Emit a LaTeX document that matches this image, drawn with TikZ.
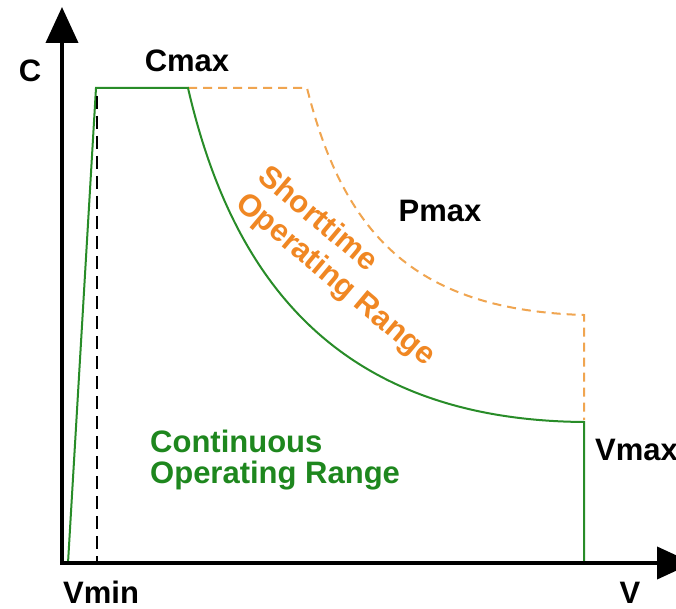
\documentclass[tikz,border=0pt]{standalone}
\usepackage{fontspec}
\setmainfont{Liberation Sans}
\usetikzlibrary{arrows.meta}
\definecolor{lgreen}{RGB}{40,140,40}
\definecolor{tgreen}{RGB}{30,135,30}
\definecolor{lorange}{RGB}{240,165,80}
\definecolor{torange}{RGB}{240,135,35}
\begin{document}
\begin{tikzpicture}[x=1pt,y=-1pt,
  lbl/.style={font=\fontsize{31}{31}\selectfont\bfseries, inner sep=0pt},
  axisline/.style={line width=4pt, line join=miter,
    {Triangle[width=32pt,length=36pt]}-{Triangle[width=32pt,length=36pt]}},
  gline/.style={draw=lgreen, line width=2pt, line join=miter},
  oline/.style={draw=lorange, line width=2pt, dash pattern=on 9pt off 6pt},
  bdash/.style={draw=black, line width=2.5pt, dash pattern=on 13pt off 7pt}]
\clip (0,0) rectangle (676,609);
\useasboundingbox (0,0) rectangle (676,609);
\fill[white] (0,0) rectangle (676,609);
% coordinates
\coordinate (ytip) at (62,7);
\coordinate (O) at (62,563);
\coordinate (xtip) at (693,563);
\coordinate (g0) at (68,563);
\coordinate (g1) at (96,88);
\coordinate (g2) at (188,88);
\coordinate (g3) at (584,422);
\coordinate (g4) at (584,563);
\coordinate (o1) at (307,88);
\coordinate (o2) at (584,315);
\coordinate (o3) at (584,420);
\coordinate (d1) at (97,96);
\coordinate (d2) at (97,563);
% curves
\draw[oline] (g2) -- (o1) .. controls (345,240) and (420,310) .. (o2) -- (o3);
\draw[gline] (g0) -- (g1) -- (g2) .. controls (230,270) and (330,420) .. (g3) -- (g4);
\draw[bdash] (d1) -- (d2);
% axes
\draw[axisline] (ytip) -- (O) -- (xtip);
% labels
\node[lbl, anchor=base] (c) at (30,82) {C};
\node[lbl, anchor=base] (cmax) at (187,72) {Cmax};
\node[lbl, anchor=base] (pmax) at (440,222) {Pmax};
\node[lbl, anchor=base west] (vmax) at (595,460) {Vmax};
\node[lbl, anchor=base] (v) at (630,603) {V};
\node[lbl, anchor=base west] (vmin) at (63,603) {Vmin};
\node[lbl, text=tgreen, align=left, anchor=north west] (cont) at (150,430) {Continuous\\Operating Range};
\node[lbl, font=\fontsize{31}{35}\selectfont\bfseries, text=torange, align=left, anchor=north west, rotate=-40] (short) at (271,162) {Shorttime\\Operating Range};
\end{tikzpicture}
\end{document}
